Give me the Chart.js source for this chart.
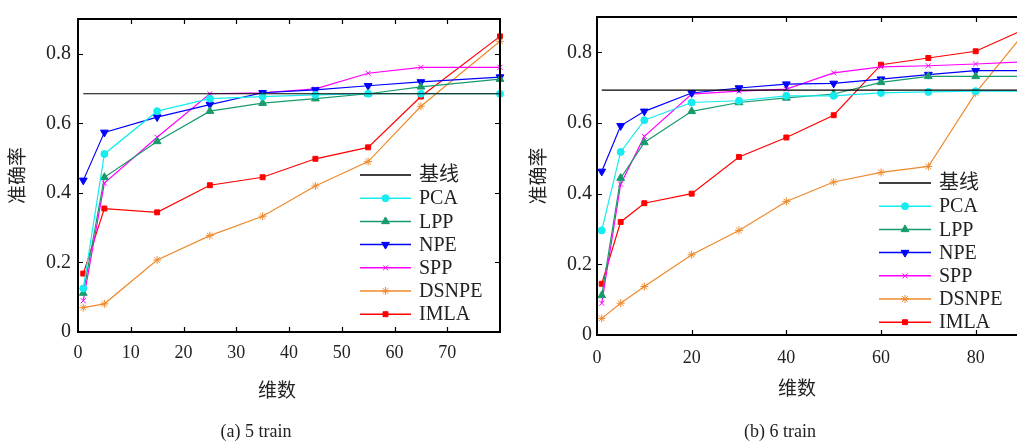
<!DOCTYPE html>
<html>
<head>
<meta charset="utf-8">
<script src="https://cdn.jsdelivr.net/npm/chart.js@4/dist/chart.umd.min.js"></script>
<style>
html,body{margin:0;padding:0;background:#fff;overflow:hidden;width:1017px;height:443px}
.wrap{position:absolute;top:0;height:443px}
.lbl{position:absolute;font-family:"Liberation Serif","Noto Sans CJK SC",serif;color:#222;white-space:nowrap;transform:translate(-50%,-50%)}
</style>
</head>
<body>
<div class="wrap" style="left:0;width:510px"><canvas id="c5"></canvas></div>
<div class="wrap" style="left:515px;width:520px"><canvas id="c6"></canvas></div>
<div class="lbl" style="left:277px;top:388px;font-size:19px">维数</div>
<div class="lbl" style="left:797px;top:386px;font-size:19px">维数</div>
<div class="lbl" style="left:256px;top:431px;font-size:18px">(a) 5 train</div>
<div class="lbl" style="left:780px;top:431px;font-size:18px">(b) 6 train</div>
<script>
// ===== DATA =====
const names = ['PCA', 'LPP', 'NPE', 'SPP', 'DSNPE', 'IMLA'];

// (a) 5 train
const dims5 = [1, 5, 15, 25, 35, 45, 55, 65, 80];
const base5 = 0.685;
const pca5   = [0.125, 0.512, 0.635, 0.671, 0.677, 0.682, 0.685, 0.685, 0.685];
const lpp5   = [0.112, 0.445, 0.548, 0.635, 0.658, 0.671, 0.685, 0.705, 0.727];
const npe5   = [0.436, 0.574, 0.618, 0.654, 0.688, 0.696, 0.708, 0.719, 0.733];
const spp5   = [0.090, 0.428, 0.560, 0.685, 0.688, 0.699, 0.744, 0.761, 0.761];
const dsnpe5 = [0.070, 0.081, 0.207, 0.277, 0.333, 0.420, 0.490, 0.649, 0.836];
const imla5  = [0.168, 0.355, 0.344, 0.422, 0.445, 0.498, 0.531, 0.677, 0.850];

// (b) 6 train
const dims6 = [1, 5, 10, 20, 30, 40, 50, 60, 70, 80, 90];
const base6 = 0.693;
const pca6   = [0.296, 0.518, 0.608, 0.658, 0.663, 0.677, 0.677, 0.685, 0.688, 0.690, 0.690];
const lpp6   = [0.112, 0.444, 0.545, 0.633, 0.658, 0.671, 0.682, 0.715, 0.732, 0.732, 0.732];
const npe6   = [0.463, 0.592, 0.633, 0.685, 0.699, 0.710, 0.712, 0.724, 0.737, 0.748, 0.748];
const spp6   = [0.090, 0.427, 0.562, 0.682, 0.690, 0.696, 0.742, 0.759, 0.762, 0.767, 0.773];
const dsnpe6 = [0.047, 0.090, 0.137, 0.227, 0.296, 0.378, 0.433, 0.460, 0.477, 0.685, 0.850];
const imla6  = [0.145, 0.320, 0.373, 0.400, 0.504, 0.559, 0.622, 0.765, 0.784, 0.803, 0.863];

// ===== STYLE =====
const colors  = ['#14ecef', '#179b6b', '#0000ff', '#ff00ff', '#ef8a2c', '#ff0000'];
const markers = ['circle', 'triangle', 'triangle', 'crossRot', 'star', 'rect'];
const rots    = [0, 0, 180, 0, 0, 0];
const radii   = [3.5, 4.5, 4.5, 3.5, 4, 3.5];
const SERIF = '"Liberation Serif", "Noto Sans CJK SC", serif';

// cadre + graduations vers l'intérieur (style matlab)
const frame = {
  id: 'frame',
  afterDraw(chart) {
    const {ctx, chartArea: a, scales: {x, y}} = chart;
    ctx.save();
    ctx.strokeStyle = '#000';
    ctx.lineWidth = 1.2;
    ctx.beginPath();
    x.ticks.forEach(t => {
      if (t.value <= x.min || t.value >= x.max) return;
      const px = Math.round(x.getPixelForValue(t.value)) + 0.5;
      ctx.moveTo(px, a.bottom); ctx.lineTo(px, a.bottom - 5);
      ctx.moveTo(px, a.top); ctx.lineTo(px, a.top + 5);
    });
    y.ticks.forEach(t => {
      if (t.value <= y.min + 1e-9 || t.value >= y.max - 1e-9) return;
      const py = Math.round(y.getPixelForValue(t.value)) + 0.5;
      ctx.moveTo(a.left, py); ctx.lineTo(a.left + 5, py);
      ctx.moveTo(a.right, py); ctx.lineTo(a.right - 5, py);
    });
    ctx.stroke();
    ctx.lineWidth = 2;
    ctx.strokeRect(a.left, a.top, a.right - a.left, a.bottom - a.top);
    ctx.restore();
  }
};

// légende dessinée dans la zone du graphe
const inLegend = {
  id: 'inLegend',
  afterDraw(chart, args, opts) {
    const {ctx} = chart;
    ctx.save();
    ctx.font = '20px ' + SERIF;
    ctx.textBaseline = 'middle';
    chart.data.datasets.forEach((ds, i) => {
      const y = opts.y0 + i * opts.dy;
      ctx.strokeStyle = ds.borderColor;
      ctx.lineWidth = 1.5;
      ctx.beginPath();
      ctx.moveTo(opts.x0, y); ctx.lineTo(opts.x0 + opts.len, y);
      ctx.stroke();
      if (ds.pointRadius) {
        ctx.fillStyle = ds.borderColor;
        ctx.lineWidth = 1;
        Chart.helpers.drawPoint(ctx, {pointStyle: ds.pointStyle, rotation: ds.pointRotation, radius: ds.pointRadius, borderWidth: 1}, opts.x0 + opts.len / 2, y);
      }
      ctx.fillStyle = '#222';
      ctx.fillText(ds.label, opts.x0 + opts.len + 8, y + 1);
    });
    ctx.restore();
  }
};

function makeChart(id, dims, base, series, cfg) {
  const datasets = [{
    label: '基线',
    data: [{x: dims[0], y: base}, {x: dims[dims.length - 1], y: base}],
    borderColor: '#000', borderWidth: 1.2, pointRadius: 0
  }];
  series.forEach((vals, i) => {
    datasets.push({
      label: names[i],
      data: vals.map((v, k) => ({x: dims[k], y: v})),
      borderColor: colors[i], backgroundColor: colors[i],
      borderWidth: 1.2,
      pointStyle: markers[i], pointRotation: rots[i], pointRadius: radii[i],
      pointBorderWidth: 1, pointBackgroundColor: colors[i], pointBorderColor: colors[i],
      clip: 8
    });
  });
  return new Chart(document.getElementById(id), {
    type: 'line',
    data: {datasets},
    plugins: [frame, inLegend],
    options: {
      responsive: true, maintainAspectRatio: false, animation: false,
      layout: {padding: {left: 0, top: cfg.top, right: cfg.right, bottom: 0}},
      plugins: {legend: {display: false}, tooltip: {enabled: false}, inLegend: cfg.legend},
      scales: {
        x: {
          type: 'linear', min: 0, max: cfg.xMax,
          grid: {display: false, drawTicks: false}, border: {display: false},
          ticks: {stepSize: cfg.xStep, autoSkip: false, maxRotation: 0, padding: cfg.xPad, color: '#222',
            font: {family: SERIF, size: 18},
            callback: v => (v % cfg.xStep === 0 && v < cfg.xLast + 1) ? String(v) : ''},
          afterFit: s => { s.height = cfg.xH; }
        },
        y: {
          min: 0, max: 0.9,
          grid: {display: false, drawTicks: false}, border: {display: false},
          ticks: {stepSize: 0.2, autoSkip: false, padding: cfg.yPad, color: '#222',
            font: {family: SERIF, size: 20},
            callback: v => {
              const k = Math.round(v * 5);
              if (Math.abs(v * 5 - k) > 1e-6) return '';
              return k === 0 ? '0' : (k / 5).toFixed(1);
            }},
          title: {display: true, text: '准确率', color: '#222', font: {family: SERIF, size: 19}, padding: {top: cfg.tPad, bottom: 0}},
          afterFit: s => { s.width = cfg.yW; }
        }
      }
    }
  });
}

makeChart('c5', dims5, base5, [pca5, lpp5, npe5, spp5, dsnpe5, imla5], {
  top: 11, right: 8, xMax: 80, xStep: 10, xLast: 70, xPad: 10, xH: 111, yPad: 7, yW: 78, tPad: 8,
  legend: {x0: 360, y0: 175, dy: 23.2, len: 51}
});
makeChart('c6', dims6, base6, [pca6, lpp6, npe6, spp6, dsnpe6, imla6], {
  top: 8, right: 12, xMax: 90, xStep: 20, xLast: 80, xPad: 12, xH: 108, yPad: 5, yW: 82, tPad: 14,
  legend: {x0: 364, y0: 183, dy: 23.2, len: 52}
});
</script>
</body>
</html>
